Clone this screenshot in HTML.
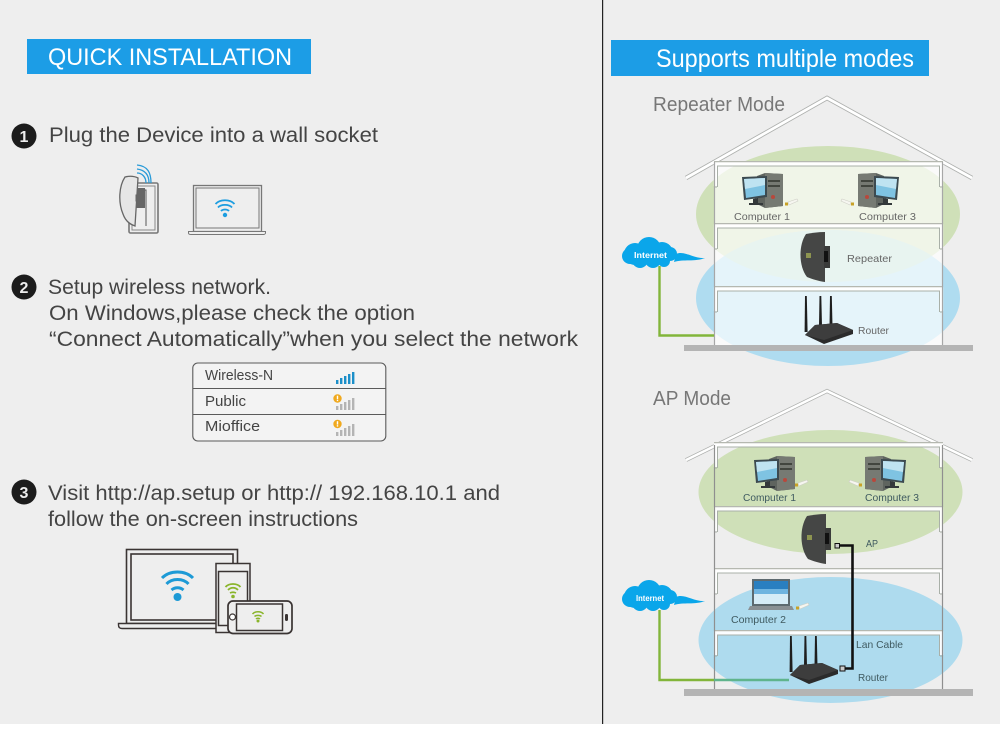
<!DOCTYPE html>
<html><head><meta charset="utf-8"><style>
html,body{margin:0;padding:0;background:#fff}
svg{display:block;filter:blur(.3px)}
text{font-family:"Liberation Sans",sans-serif}
.h{font-size:21px;fill:#444}
.l{font-size:10.5px;fill:#666}
.d{font-size:10.5px;fill:#3f5a60}
</style></head><body>
<svg width="1000" height="737" viewBox="0 0 1000 737" xmlns="http://www.w3.org/2000/svg">
<defs>
<g id="floor">
<rect x="714" y="0" width="229" height="1.5" fill="#b5b8b0"/>
<path d="M715.500 25V3H941.500V25" fill="none" stroke="#fff" stroke-width="3.400" opacity=".95"/>
<path d="M717.500 26V5H939.500V26" fill="none" stroke="#a9b0a8" stroke-width="1"/>
<path d="M714 26H717M940 26H943" stroke="#a9b0a8" stroke-width="1"/>
</g>
<g id="roof">
<path d="M686 178L827 98L972 178" fill="none" stroke="#aeb0ae" stroke-width="4.500"/>
<path d="M686 178L827 98L972 178" fill="none" stroke="#fff" stroke-width="2.800"/>
</g>
<g id="cloud">
<path d="M676 254C684 250 694 259 705 258C695 262 683 259 674 262Z" fill="#0aa6ea"/>
<g fill="#0aa6ea"><circle cx="635" cy="254" r="11"/><circle cx="649" cy="249" r="12"/><circle cx="662" cy="253" r="11"/><circle cx="670" cy="254" r="7"/><circle cx="630" cy="256" r="8"/><circle cx="640" cy="260" r="8"/><circle cx="653" cy="260" r="8"/><circle cx="664" cy="261" r="6"/></g>
</g>
<g id="pc">
<path d="M15 0L23 -3L41 -2V30L23 32L15 28Z" fill="#5f645f"/>
<path d="M23 -3L41 -2V30L23 32Z" fill="#767a73"/>
<rect x="26" y="4" width="12" height="2" fill="#42463f"/><rect x="26" y="9" width="12" height="2" fill="#42463f"/>
<circle cx="31" cy="21" r="2" fill="#b8483c"/>
<path d="M0 1L25 0V21L2 24Z" fill="#3c4a50"/>
<path d="M2 3L23 2V19L4 22Z" fill="#7fc3e2"/>
<path d="M2 3L23 2V9L3 13Z" fill="#bfe3f1"/>
<path d="M11 23L16 22V27H21V29H7V27H11Z" fill="#33383a"/>
</g>
<g id="pcr">
<path d="M26 0L18 -3L0 -2V30L18 32L26 28Z" fill="#5f645f"/>
<path d="M18 -3L0 -2V30L18 32Z" fill="#767a73"/>
<rect x="3" y="4" width="12" height="2" fill="#42463f"/><rect x="3" y="9" width="12" height="2" fill="#42463f"/>
<circle cx="9" cy="21" r="2" fill="#b8483c"/>
<path d="M41 1L16 0V21L39 24Z" fill="#3c4a50"/>
<path d="M39 3L18 2V19L37 22Z" fill="#7fc3e2"/>
<path d="M39 3L18 2V9L38 13Z" fill="#bfe3f1"/>
<path d="M30 23L25 22V27H20V29H34V27H30Z" fill="#33383a"/>
</g>
<g id="usb"><path d="M3 3L12 0L13 2L4 6Z" fill="#f6f6f0" stroke="#cfcfc6" stroke-width=".6"/><rect x="0" y="3.500" width="3" height="3" fill="#c9a227"/></g>
<g id="rep">
<path d="M6 2C12 1 18 0 25 0L25 50C18 49 12 47 7 45C-1 35 -2 14 6 2Z" fill="#454645"/>
<path d="M24 14H30V36H24Z" fill="#3a3b3a"/>
<rect x="24" y="19" width="4" height="11" fill="#111"/>
<rect x="6" y="21" width="5" height="5" fill="#8d9450"/>
</g>
<g id="router">
<path d="M0 0H1.800L2.600 36H-.4Z" fill="#1e1e1e"/>
<path d="M14.500 0H16.300L17 30H14Z" fill="#1e1e1e"/>
<path d="M25 0H26.800L27.500 30H24.500Z" fill="#1e1e1e"/>
<path d="M0 39L10 29L32 27L48 34V38L19 48L0 39Z" fill="#2b2b2b"/>
<path d="M0 39L10 29L32 27L48 34L19 44Z" fill="#3d3d3d"/>
</g>
<g id="bars"><rect x="0" y="8" width="2.400" height="4"/><rect x="4" y="6" width="2.400" height="6"/><rect x="8" y="4" width="2.400" height="8"/><rect x="12" y="2" width="2.400" height="10"/><rect x="16" y="0" width="2.400" height="12"/></g>
<g id="warn"><circle cx="0" cy="0" r="4.200" fill="#f0a91e"/><rect x="-.7" y="-2.800" width="1.400" height="3.400" fill="#fff"/><rect x="-.7" y="1.200" width="1.400" height="1.400" fill="#fff"/></g>
</defs>

<rect width="1000" height="724" fill="#eeeeee"/>
<rect x="602" y="0" width="1.200" height="724" fill="#222"/>

<!-- LEFT -->
<rect x="27" y="39" width="284" height="35" fill="#1c9de6"/>
<text x="48" y="65" font-size="24" fill="#fff" textLength="244" lengthAdjust="spacingAndGlyphs">QUICK INSTALLATION</text>

<circle cx="24" cy="136" r="12.500" fill="#1c1c1c"/>
<text x="24" y="142" font-size="16" font-weight="bold" fill="#eee" text-anchor="middle">1</text>
<text class="h" x="49" y="142" textLength="329" lengthAdjust="spacingAndGlyphs">Plug the Device into a wall socket</text>

<!-- plug -->
<g fill="none">
<rect x="129" y="183" width="29" height="50" rx="1.500" fill="#eee" stroke="#777" stroke-width="1.600"/>
<rect x="132" y="186" width="23" height="44" stroke="#888" stroke-width="1"/>
<path d="M134 190H146V226" stroke="#555" stroke-width="1" />
</g>
<rect x="135" y="188" width="10" height="20" fill="#666"/>
<path d="M125 177C129 176 134 176 138 178L135 226C129 224 125 220 123 214C118 202 119 186 125 177Z" fill="#e6e6e6" stroke="#666" stroke-width="1.300"/>
<path d="M137 169C145 170 149 175 149 183M137 165C148 166 151 173 151 183M137 173C142 173 146 177 146 183" fill="none" stroke="#2a9bd8" stroke-width="1.300"/>
<rect x="136" y="195" width="3" height="6" fill="none" stroke="#666"/>

<!-- laptop 1 -->
<rect x="193.500" y="185.500" width="68" height="46" fill="#eee" stroke="#777" stroke-width="1.300"/>
<rect x="196" y="188" width="63" height="40" fill="none" stroke="#777"/>
<path d="M188.500 231.500H265.500V233C265.500 234 264 234.500 263 234.500H191C189.500 234.500 188.500 234 188.500 233Z" fill="#eee" stroke="#777"/>
<g fill="none" stroke="#1c9de0" stroke-width="1.800"><path d="M215.500 204C220 199 230 199 234.500 204"/><path d="M218 207.500C221 204 229 204 232 207.500"/><path d="M221 211C223 209 227 209 229 211"/></g>
<circle cx="225" cy="215" r="2.200" fill="#1c9de0"/>

<circle cx="24" cy="287" r="12.500" fill="#1c1c1c"/>
<text x="24" y="293" font-size="16" font-weight="bold" fill="#eee" text-anchor="middle">2</text>
<text class="h" x="48" y="294" textLength="223" lengthAdjust="spacingAndGlyphs">Setup wireless network.</text>
<text class="h" x="49" y="320" textLength="366" lengthAdjust="spacingAndGlyphs">On Windows,please check the option</text>
<text class="h" x="49" y="346" textLength="529" lengthAdjust="spacingAndGlyphs">“Connect Automatically”when you select the network</text>

<!-- wifi table -->
<rect x="192.800" y="363" width="193" height="78" rx="5" fill="#f3f3f3" stroke="#5a5a5a" stroke-width="1.100"/>
<path d="M193 388.500H386M193 414.500H386" stroke="#5a5a5a" stroke-width="1.100"/>
<text x="205" y="380" font-size="15" fill="#444" textLength="68" lengthAdjust="spacingAndGlyphs">Wireless-N</text>
<text x="205" y="406" font-size="15" fill="#444" textLength="41" lengthAdjust="spacingAndGlyphs">Public</text>
<text x="205" y="431" font-size="15" fill="#444" textLength="55" lengthAdjust="spacingAndGlyphs">Mioffice</text>
<use href="#bars" x="336" y="372" fill="#1c8fc9"/>
<use href="#bars" x="336" y="398" fill="#b4b4b4"/>
<use href="#bars" x="336" y="424" fill="#b4b4b4"/>
<use href="#warn" x="337.500" y="398.500"/>
<use href="#warn" x="337.500" y="424"/>

<circle cx="24" cy="492" r="12.500" fill="#1c1c1c"/>
<text x="24" y="498" font-size="16" font-weight="bold" fill="#eee" text-anchor="middle">3</text>
<text class="h" x="48" y="500" textLength="452" lengthAdjust="spacingAndGlyphs">Visit http://ap.setup or http:// 192.168.10.1 and</text>
<text class="h" x="48" y="526" textLength="310" lengthAdjust="spacingAndGlyphs">follow the on-screen instructions</text>

<!-- devices -->
<rect x="126.500" y="549.500" width="111" height="74" fill="#eee" stroke="#3a3433" stroke-width="1.600"/>
<rect x="131" y="554" width="102" height="66" fill="#eee" stroke="#3a3433" stroke-width="1.600"/>
<path d="M118.500 623.500H229V628.500H122C119.500 628.500 118.500 627 118.500 625Z" fill="#eee" stroke="#3a3433" stroke-width="1.400"/>
<g fill="none" stroke="#1d9ad6" stroke-width="3"><path d="M162 578C170 570 185 570 193 578"/><path d="M166.500 584C172 578 183 578 188.500 584"/><path d="M171.500 590C175 587 180 587 183.500 590"/></g>
<circle cx="177.500" cy="597" r="4" fill="#1d9ad6"/>
<rect x="216" y="563.500" width="34" height="69" fill="#eee" stroke="#3a3433" stroke-width="1.500"/>
<rect x="218.500" y="571.500" width="29" height="54" fill="#eee" stroke="#3a3433" stroke-width="1.500"/>
<g fill="none" stroke="#8ab52b" stroke-width="1.800"><path d="M225.500 587C229 583 237 583 240.500 587"/><path d="M228 590C231 587 235 587 238 590"/><path d="M230 593C232 592 234 592 236 593"/></g>
<circle cx="233" cy="596.500" r="1.800" fill="#8ab52b"/>
<rect x="228" y="601" width="64" height="32.500" rx="5" fill="#eee" stroke="#3a3433" stroke-width="1.700"/>
<rect x="236.500" y="604" width="46" height="26.500" fill="#eee" stroke="#3a3433" stroke-width="1.500"/>
<circle cx="232.500" cy="617" r="3" fill="#fff" stroke="#3a3433" stroke-width="1.200"/>
<rect x="285" y="614" width="3" height="7" rx="1.200" fill="#3a3433"/>
<g fill="none" stroke="#8ab52b" stroke-width="1.500"><path d="M252.500 614C255 611 261 611 263.500 614"/><path d="M254.500 616.500C256 615 260 615 261.500 616.500"/><path d="M256 619C257 618 259 618 260 619"/></g>
<circle cx="258" cy="621" r="1.500" fill="#8ab52b"/>

<!-- RIGHT -->
<rect x="611" y="40" width="318" height="36" fill="#1c9de6"/>
<text x="656" y="67" font-size="25" fill="#fff" textLength="258" lengthAdjust="spacingAndGlyphs">Supports multiple modes</text>

<!-- Repeater house -->
<text x="653" y="111" font-size="20" fill="#777" textLength="132" lengthAdjust="spacingAndGlyphs">Repeater Mode</text>
<ellipse cx="828" cy="214" rx="132" ry="68" fill="#cfe0b8"/>
<ellipse cx="828" cy="298" rx="132" ry="68" fill="#afdcf0"/>
<clipPath id="ov"><ellipse cx="828" cy="214" rx="132" ry="68"/></clipPath>
<ellipse cx="828" cy="298" rx="132" ry="68" fill="#b6dcd0" clip-path="url(#ov)"/>
<rect x="714" y="162" width="229" height="184" fill="#fff" opacity=".68"/>
<use href="#roof"/>
<use href="#floor" y="161"/>
<use href="#floor" y="223"/>
<use href="#floor" y="286"/>
<path d="M714.500 162V346M942.500 162V346" stroke="#a7a7a7" stroke-width="1.200"/>
<rect x="684" y="345" width="289" height="6" fill="#b4b4b4"/>

<use href="#pc" x="742" y="176"/>
<use href="#usb" x="785" y="199"/>
<text class="l" x="734" y="220" textLength="56" lengthAdjust="spacingAndGlyphs">Computer 1</text>
<use href="#pcr" x="858" y="176"/>
<use href="#usb" transform="translate(854,199) scale(-1,1)"/>
<text class="l" x="859" y="220" textLength="57" lengthAdjust="spacingAndGlyphs">Computer 3</text>
<use href="#rep" x="800" y="232"/>
<text class="l" x="847" y="262" textLength="45" lengthAdjust="spacingAndGlyphs">Repeater</text>
<use href="#router" x="805" y="296"/>
<text class="l" x="858" y="334" textLength="31" lengthAdjust="spacingAndGlyphs">Router</text>
<use href="#cloud"/>
<text x="634" y="258" font-size="8.500" font-weight="bold" fill="#fff" textLength="33" lengthAdjust="spacingAndGlyphs">Internet</text>
<path d="M659.500 266V335.500H714" fill="none" stroke="#82b53a" stroke-width="2.400"/>

<!-- AP house -->
<text x="653" y="405" font-size="20" fill="#777" textLength="78" lengthAdjust="spacingAndGlyphs">AP Mode</text>
<ellipse cx="830.500" cy="492" rx="132" ry="62" fill="#cfe0b8"/>
<ellipse cx="830.500" cy="640" rx="132" ry="63" fill="#aedbee"/>
<use href="#roof" transform="translate(0,306.500) scale(1,.8625)"/>
<use href="#floor" y="442"/>
<use href="#floor" y="506"/>
<use href="#floor" y="568"/>
<use href="#floor" y="630"/>
<path d="M714.500 445V692M942.500 445V692" stroke="#8f8f8f" stroke-width="1.200"/>
<rect x="684" y="689" width="289" height="7" fill="#b4b4b4"/>

<use href="#pc" x="754" y="459" />
<use href="#usb" x="795" y="480"/>
<text class="d" x="743" y="501" textLength="53" lengthAdjust="spacingAndGlyphs">Computer 1</text>
<use href="#pcr" x="865" y="459"/>
<use href="#usb" transform="translate(862,480) scale(-1,1)"/>
<text class="d" x="865" y="501" textLength="54" lengthAdjust="spacingAndGlyphs">Computer 3</text>
<use href="#rep" x="801" y="514"/>
<text class="d" x="866" y="547" textLength="12" lengthAdjust="spacingAndGlyphs">AP</text>

<!-- cable -->
<path d="M836 545.500H852.500V668.500H841" fill="none" stroke="#111" stroke-width="2.600"/>
<rect x="835" y="543.500" width="4.500" height="4.500" fill="#ccc" stroke="#111"/>
<rect x="840" y="666" width="5" height="5" fill="#ccc" stroke="#111"/>

<!-- laptop 2 -->
<rect x="752" y="579" width="38" height="27" fill="#5d6a70"/>
<rect x="754" y="581" width="34" height="23" fill="#6fb4e0"/>
<rect x="754" y="581" width="34" height="8" fill="#2a7fc0"/>
<rect x="754" y="594" width="34" height="10" fill="#d6ecf7"/>
<path d="M750 606H792L794 610H748Z" fill="#8a9094"/>
<use href="#usb" x="796" y="603"/>
<text class="d" x="731" y="623" textLength="55" lengthAdjust="spacingAndGlyphs">Computer 2</text>
<text class="d" x="856" y="648" textLength="47" lengthAdjust="spacingAndGlyphs">Lan Cable</text>

<use href="#router" x="790" y="636"/>
<text class="d" x="858" y="681" textLength="30" lengthAdjust="spacingAndGlyphs">Router</text>

<use href="#cloud" y="343"/>
<text x="636" y="601" font-size="8" font-weight="bold" fill="#fff" textLength="28" lengthAdjust="spacingAndGlyphs">Internet</text>
<path d="M659.500 610V680H714" fill="none" stroke="#82b53a" stroke-width="2.400"/>
<path d="M714 680H789" fill="none" stroke="#5fb48c" stroke-width="2.400"/>
</svg>
</body></html>
